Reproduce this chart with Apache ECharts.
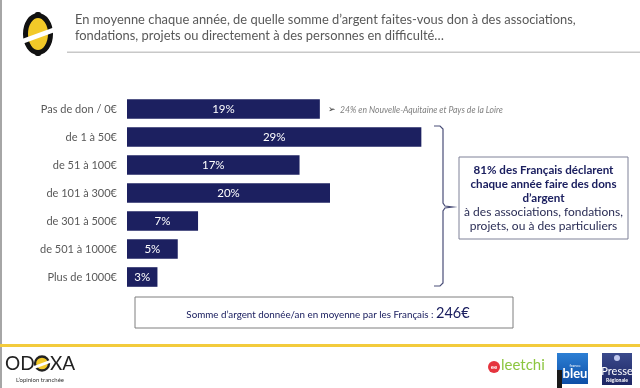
<!DOCTYPE html>
<html><head><meta charset="utf-8">
<script src="https://cdn.jsdelivr.net/npm/echarts@6/dist/echarts.min.js"></script>
<style>html,body{margin:0;padding:0;background:#fff}#c{width:640px;height:388px}</style>
</head><body><div id="c"></div>
<script>
const categories = ['Pas de don / 0€','de 1 à 50€','de 51 à 100€','de 101 à 300€','de 301 à 500€','de 501 à 1000€','Plus de 1000€'];
const values = [19, 29, 17, 20, 7, 5, 3];
const titleLines = ['En moyenne chaque année, de quelle somme d\u2019argent faites-vous don à des associations,','fondations, projets ou directement à des personnes en difficulté…'];
const noteText = '24% en Nouvelle-Aquitaine et Pays de la Loire';
const boxBold = '81% des Français déclarent\nchaque année faire des dons\nd\u2019argent';
const boxNormal = 'à des associations, fondations,\nprojets, ou à des particuliers';
const avgLabel = 'Somme d\u2019argent donnée/an en moyenne par les Français : ';
const avgValue = '246€';

const FONT = 'Lato';
const NAVY = '#1c2060';
const chart = echarts.init(document.getElementById('c'), null, {renderer:'canvas'});

const graphics = [
  {type:'rect', shape:{x:0,y:0,width:2,height:388}, style:{fill:'#a6a6a6'}},
  // logo
  {type:'rect', shape:{x:35,y:12,width:6,height:6,r:2}, style:{fill:'#111'}},
  {type:'rect', shape:{x:35,y:50,width:6,height:6,r:2}, style:{fill:'#111'}},
  {type:'ellipse', shape:{cx:38,cy:34,rx:12.5,ry:18.5}, style:{fill:'#f2c928', stroke:'#111', lineWidth:5}},
  {type:'polygon', shape:{points:[[22,39],[55,27],[55,32],[22,44]]}, style:{fill:'#fff'}},
  // title
  {type:'text', x:75, y:19.5, style:{text:titleLines[0], font:'12.9px '+FONT, fill:'#595959', verticalAlign:'middle'}},
  {type:'text', x:75, y:35.5, style:{text:titleLines[1], font:'12.9px '+FONT, fill:'#595959', verticalAlign:'middle'}},
  {type:'rect', shape:{x:67,y:51.5,width:573,height:1.5}, style:{fill:'#c8c8c8'}},
  // note
  {type:'text', x:328, y:110, style:{text:'\u27A2', font:'9px DejaVu Sans', fill:'#333', verticalAlign:'middle'}},
  {type:'text', x:340, y:110, style:{text:noteText, font:'italic 8.6px '+FONT, fill:'#7f7f7f', verticalAlign:'middle'}},
  // brace
  {type:'polyline', shape:{points:[[434,126],[440,126],[443,129],[443,203],[445,206],[453,207],[445,208],[443,211],[443,283],[440,286],[434,286]]}, style:{stroke:'#4a4e78', lineWidth:1.2, fill:null}},
  // box
  {type:'rect', shape:{x:459,y:157,width:169,height:82}, style:{fill:'#fff', stroke:'#7f8198', lineWidth:1}},
  {type:'text', x:543.5, y:163, style:{text:boxBold, font:'bold 11.6px '+FONT, fill:NAVY, align:'center', lineHeight:14}},
  {type:'text', x:543.5, y:205, style:{text:boxNormal, font:'12px '+FONT, fill:'#2a2d55', align:'center', lineHeight:14}},
  // avg box
  {type:'rect', shape:{x:135,y:297,width:378,height:31}, style:{fill:'#fff', stroke:'#7f7f7f', lineWidth:1}},
  {type:'text', x:328, y:313, style:{text:'{a|'+avgLabel+'}{b|'+avgValue+'}', align:'center', verticalAlign:'middle',
     rich:{a:{font:'9.8px '+FONT, fill:NAVY, verticalAlign:'bottom', padding:[0,0,1,0]}, b:{font:'14.5px '+FONT, fill:NAVY, verticalAlign:'bottom'}}}},
  // footer line
  {type:'rect', shape:{x:0,y:344,width:640,height:3}, style:{fill:'#f3cb3c'}},
  // ODOXA
  {type:'text', left:5, top:354, style:{text:'OD', font:'19px '+FONT, fill:'#222'}},
  {type:'circle', shape:{cx:42,cy:363.5,r:7}, style:{fill:'#f2c928', stroke:'#222', lineWidth:2.3}},
  {type:'polygon', shape:{points:[[34,366],[50,360],[50,363],[34,369]]}, style:{fill:'#fff'}},
  {type:'text', left:50, top:354, style:{text:'XA', font:'19px '+FONT, fill:'#222'}},
  {type:'text', left:16, top:377, style:{text:'L\u2019opinion tranchée', font:'6px '+FONT, fill:'#333'}},
  // leetchi
  {type:'circle', shape:{cx:494,cy:367,r:6}, style:{fill:'#e5343e'}},
  {type:'text', x:494, y:367, style:{text:'ee', font:'bold 6px '+FONT, fill:'#fff', align:'center', verticalAlign:'middle'}},
  {type:'text', left:501, top:358, style:{text:'leetchi', font:'15px '+FONT, fill:'#8cc63f'}},
  // france bleu
  {type:'rect', shape:{x:557,y:353,width:31,height:31}, style:{fill:new echarts.graphic.LinearGradient(0,0,0,1,[{offset:0,color:'#2c7fd4'},{offset:1,color:'#0d4ea6'}])}},
  {type:'rect', shape:{x:557,y:370,width:5,height:18}, style:{fill:'#1a1a1a'}},
  {type:'text', x:575, y:364, style:{text:'france', font:'4px '+FONT, fill:'#fff', align:'center'}},
  {type:'text', x:575, y:380, style:{text:'bleu', font:'bold 13px '+FONT, fill:'#fff', align:'center', verticalAlign:'bottom'}},
  // presse regionale
  {type:'rect', shape:{x:602,y:353,width:30,height:32}, style:{fill:new echarts.graphic.LinearGradient(0,0,0,1,[{offset:0,color:'#3a4a8c'},{offset:1,color:'#1d2563'}])}},
  {type:'circle', shape:{cx:617,cy:358,r:3}, style:{fill:'#c0c8ee'}},
  {type:'text', x:617, y:377, style:{text:'Presse', font:'11px Liberation Sans Narrow, '+FONT, fill:'#fff', align:'center', verticalAlign:'bottom'}},
  {type:'text', x:617, y:383, style:{text:'Régionale', font:'bold 5px '+FONT, fill:'#fff', align:'center', verticalAlign:'bottom'}}
];

chart.setOption({
  animation:false,
  grid:{left:127, top:95, width:304.5, height:196, containLabel:false},
  xAxis:{type:'value', min:0, max:30, show:false},
  yAxis:{type:'category', data:categories, inverse:true,
    axisLine:{show:false}, axisTick:{show:false}, splitLine:{show:false},
    axisLabel:{color:'#595959', fontSize:11, fontFamily:FONT, margin:10}},
  series:[{type:'bar', data:values, barCategoryGap:'30%', itemStyle:{color:NAVY},
    label:{show:true, position:'inside', color:'#fff', fontSize:11.5, fontFamily:FONT, formatter:'{c}%'}}],
  graphic:graphics
});
</script></body></html>
